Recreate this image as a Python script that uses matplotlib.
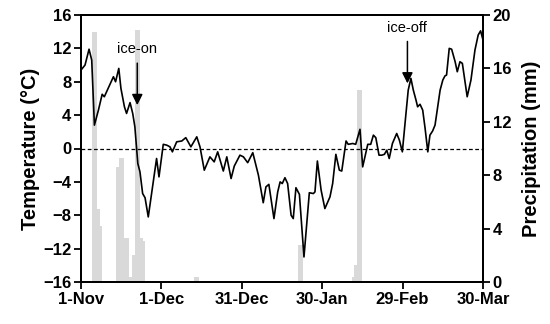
import matplotlib
matplotlib.use("Agg")
import matplotlib.pyplot as plt

plt.rcParams['font.family'] = ['Liberation Sans', 'DejaVu Sans']

# Data (days since 1-Nov)
temp_day = [0, 1.5, 3.0, 4.0, 5.0, 6.5, 7.9, 8.7, 12.1, 12.9, 14.1, 14.9, 16.2, 17.0, 18.3,
            19.3, 20.1, 21.2, 22.0, 23.0, 23.9, 25.1, 28.2, 29.1, 30.7, 32.0, 33.2, 34.1,
            35.7, 37.6, 39.1, 41.0, 43.2, 44.4, 46.0, 48.1, 49.7, 51.0, 53.1, 54.4, 56.0,
            57.2, 59.3, 60.6, 62.2, 64.1, 66.2, 68.0, 69.0, 70.1, 72.0, 73.4, 74.3, 75.1,
            76.1, 77.1, 78.4, 79.2, 80.2, 81.5, 83.2, 85.2, 86.7, 87.3, 88.2, 89.6, 91.0,
            92.9, 93.9, 95.1, 96.4, 97.3, 98.9, 99.7, 101.4, 102.5, 104.1, 105.1, 107.0,
            108.1, 109.1, 110.0, 111.2, 112.2, 113.2, 114.1, 115.0, 116.2, 117.8, 118.8,
            119.9, 121.2, 122.1, 123.1, 124.0, 125.0, 125.6, 126.5, 127.5, 128.4, 129.4,
            130.2, 131.2, 132.1, 133.1, 134.0, 135.0, 135.8, 136.4, 137.4, 138.3, 139.6,
            140.4, 141.4, 142.3, 144.1, 145.5, 147.0, 148.2, 149.1, 150.0]
temp_val = [9.4, 10.0, 11.9, 10.6, 2.8, 4.6, 6.5, 6.2, 8.6, 8.0, 9.6, 7.2, 5.0, 4.2, 5.5,
            4.2, 2.6, -1.8, -2.8, -5.4, -5.9, -8.2, -1.2, -3.4, 0.5, 0.4, 0.2, -0.4,
            0.8, 0.9, 1.3, 0.2, 1.4, 0.2, -2.6, -1.0, -1.6, -0.4, -2.7, -1.0, -3.6,
            -2.1, -0.8, -1.0, -1.7, -0.5, -3.2, -6.5, -4.6, -4.3, -8.4, -5.2, -4.0, -4.2,
            -3.5, -4.2, -8.0, -8.4, -4.7, -5.5, -13.0, -5.3, -5.4, -5.2, -1.5, -5.0, -7.2,
            -5.8, -4.2, -0.7, -2.6, -2.7, 0.9, 0.5, 0.6, 0.5, 2.3, -2.2, 0.5,
            0.5, 1.6, 1.3, -0.8, -0.8, -0.7, -0.2, -1.2, 0.6, 1.8, 1.0,
            -0.4, 4.0, 7.0, 8.4, 7.0, 5.8, 5.0, 5.3, 4.6, 2.4, -0.4,
            1.6, 2.1, 2.8, 5.0, 7.0, 8.2, 8.7, 8.8, 12.0, 11.9, 10.4,
            9.2, 10.4, 10.2, 6.2, 8.2, 11.8, 13.6, 14.1, 13.0]

precip_day = [4, 5, 6, 7, 13, 14, 15, 16, 17, 18, 19, 20, 21, 22, 23, 42, 43,
              81, 82, 101, 102, 103, 104]
precip_val = [18.7, 18.7, 5.5, 4.2, 8.6, 9.3, 9.3, 3.3, 3.3, 0.4, 2.0, 18.9, 18.9, 3.3, 3.1,
              0.4, 0.4, 2.8, 2.8, 0.4, 1.3, 14.4, 14.4]

xtick_pos = [0, 30, 60, 90, 120, 150]
xtick_labels = ['1-Nov', '1-Dec', '31-Dec', '30-Jan', '29-Feb', '30-Mar']
ytick_temp = [-16, -12, -8, -4, 0, 4, 8, 12, 16]
ytick_prec = [0, 4, 8, 12, 16, 20]

fig = plt.figure(figsize=(5.5, 3.24), dpi=100)
ax1 = fig.add_axes([81/550, 1-282/324, 402/550, 267/324])
ax2 = ax1.twinx()

ax2.bar(precip_day, precip_val, width=1.0, align='edge', color='#d9d9d9', edgecolor='none')
ax2.set_ylim(0, 20)
ax2.set_yticks(ytick_prec)

ax1.set_zorder(ax2.get_zorder() + 1)
ax1.patch.set_visible(False)

ax1.plot(temp_day, temp_val, color='black', lw=1.2)
ax1.axhline(0, color='black', lw=0.9, ls=(0, (3, 2)))
ax1.set_xlim(0, 150)
ax1.set_ylim(-16, 16)
ax1.set_yticks(ytick_temp)
ax1.set_xticks(xtick_pos)
ax1.set_xticklabels(xtick_labels)

for ax in (ax1, ax2):
    for s in ax.spines.values():
        s.set_linewidth(1.4)
    ax.tick_params(direction='out', length=5, width=1.3, labelsize=12, pad=2)
    for lab in ax.get_xticklabels() + ax.get_yticklabels():
        lab.set_fontweight('bold')

ax1.set_ylabel('Temperature (°C)', fontsize=14.5, fontweight='bold', labelpad=2)
ax2.set_ylabel('Precipitation (mm)', fontsize=14.5, fontweight='bold', labelpad=8)

ax1.annotate('ice-on', xy=(21.0, 5.2), xytext=(21.0, 11.9), ha='center', va='center',
             fontsize=10.5,
             arrowprops=dict(arrowstyle='-|>', color='black', lw=1.1, mutation_scale=16,
                             shrinkA=3, shrinkB=0))
ax1.annotate('ice-off', xy=(121.8, 7.8), xytext=(121.8, 14.5), ha='center', va='center',
             fontsize=10.5,
             arrowprops=dict(arrowstyle='-|>', color='black', lw=1.1, mutation_scale=16,
                             shrinkA=3, shrinkB=0))

fig.savefig('out.png', dpi=100)
